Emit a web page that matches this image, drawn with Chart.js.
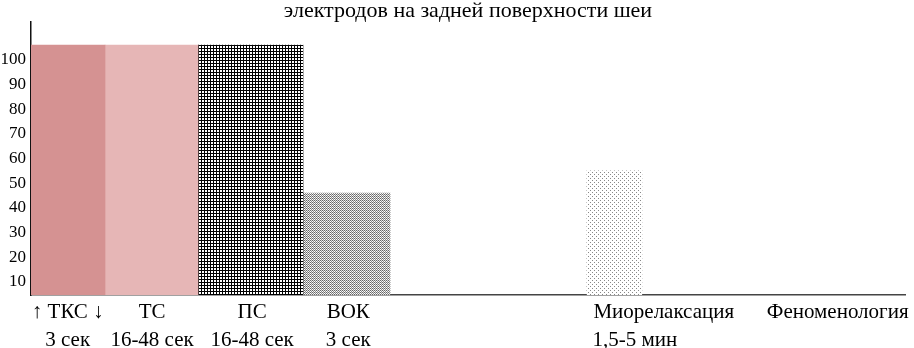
<!DOCTYPE html>
<html>
<head>
<meta charset="utf-8">
<script src="https://cdn.jsdelivr.net/npm/chart.js@4/dist/chart.umd.min.js"></script>
<style>
  html, body { margin: 0; padding: 0; background: #fff; }
  #wrap { width: 914px; height: 348px; }
</style>
</head>
<body>
<div id="wrap"><canvas id="chart"></canvas></div>
<script>
// Data
const title = "электродов на задней поверхности шеи";
const stageNames = ["↑ ТКС ↓", "ТС", "ПС", "ВОК", "Миорелаксация", "Феноменология"];
const stageTimes = ["3 сек", "16-48 сек", "16-48 сек", "3 сек", "1,5-5 мин" + "\u00A0".repeat(11), ""];
const labelPos = [4.2, 13.85, 25.3, 36.3, 72.4, 92.3];     // along x axis, % of width
const barLeft = [0, 8.47, 19.11, 31.12, 63.6];
const barRight = [8.47, 19.11, 31.12, 41.08, 69.9];
const barValues = [106, 106, 106, 46, 55];
const yTicks = [10, 20, 30, 40, 50, 60, 70, 80, 90, 100];

const Y_MIN = 4.7, Y_MAX = 115.4;
const PLOT_W = 874; // chart area width in px (fixed by layout below)

// small fill patterns
function makePattern(w, h, paint) {
    const c = document.createElement("canvas");
    c.width = w; c.height = h;
    const g = c.getContext("2d");
    g.fillStyle = "#fff";
    g.fillRect(0, 0, w, h);
    paint(g);
    return g.createPattern(c, "repeat");
}
const gridPattern = makePattern(3, 3, g => {
    g.fillStyle = "#000";
    g.fillRect(0, 0, 3, 1);
    g.fillRect(0, 0, 1, 3);
});
const densePattern = makePattern(2, 2, g => {
    g.fillStyle = "#666";
    g.fillRect(0, 0, 1, 1);
    g.fillStyle = "#888";
    g.fillRect(1, 1, 1, 1);
    g.fillStyle = "#ddd";
    g.fillRect(1, 0, 1, 1);
});
const sparsePattern = makePattern(4, 4, g => {
    g.fillStyle = "#888";
    g.fillRect(0, 0, 1, 1);
    g.fillRect(2, 2, 1, 1);
});
const fills = ["rgb(213,146,146)", "rgb(230,182,182)", gridPattern, densePattern, sparsePattern];

const datasets = barValues.map((v, i) => ({
    data: [{ x: (barLeft[i] + barRight[i]) / 2, y: v }],
    backgroundColor: fills[i],
    borderWidth: 0,
    barThickness: (barRight[i] - barLeft[i]) * PLOT_W / 100,
    grouped: false,
    base: Y_MIN
}));

const serif = "'Liberation Serif', 'Times New Roman', serif";

new Chart(document.getElementById("chart"), {
    type: "bar",
    data: { datasets },
    options: {
        responsive: true,
        maintainAspectRatio: false,
        animation: false,
        layout: { padding: { left: 0, right: 9, top: 0, bottom: 0 } },
        plugins: {
            legend: { display: false },
            tooltip: { enabled: false },
            title: {
                display: true,
                text: title,
                fullSize: false,
                color: "#000",
                font: { family: serif, size: 22, weight: "normal", lineHeight: 1 },
                padding: 0
            }
        },
        scales: {
            x: {
                type: "linear",
                min: 0,
                max: 100,
                offset: false,
                grid: { display: false, drawTicks: false },
                border: { display: true, color: "#444", width: 1.5 },
                afterBuildTicks: s => { s.ticks = labelPos.map(v => ({ value: v })); },
                afterFit: s => { s.height = 53; },
                ticks: {
                    autoSkip: false,
                    maxRotation: 0,
                    padding: 3,
                    color: "#000",
                    font: { family: serif, size: 21, lineHeight: 1.333 },
                    callback: (v, i) => [stageNames[i], stageTimes[i]]
                }
            },
            y: {
                min: Y_MIN,
                max: Y_MAX,
                grid: { display: false, drawTicks: false },
                border: { display: true, color: "#111", width: 1.5 },
                afterBuildTicks: s => { s.ticks = yTicks.map(v => ({ value: v })); },
                afterFit: s => { s.width = 31; },
                ticks: {
                    padding: 5,
                    color: "#000",
                    font: { family: serif, size: 17 }
                }
            }
        }
    }
});
</script>
</body>
</html>
